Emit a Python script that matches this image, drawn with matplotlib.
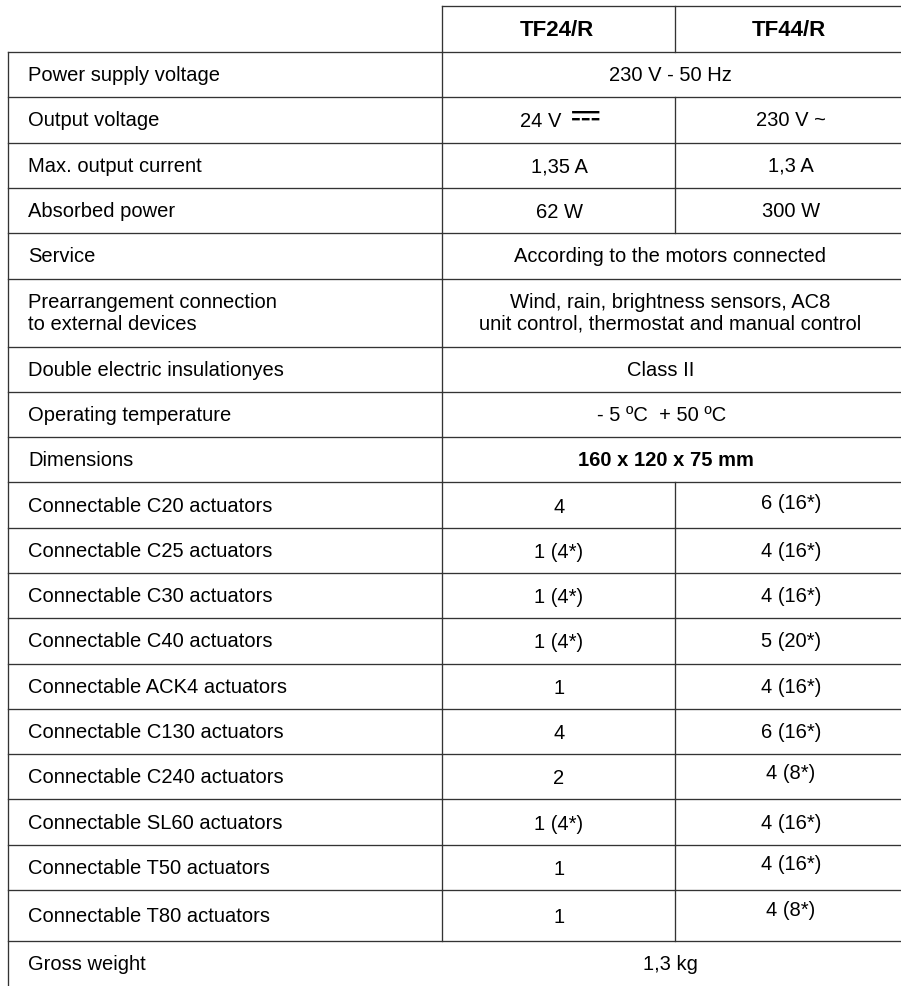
import matplotlib.pyplot as plt
from matplotlib import font_manager, ft2font

# table content
headers = ['TF24/R', 'TF44/R']
labels = ['Power supply voltage', 'Output voltage', 'Max. output current',
          'Absorbed power', 'Service',
          'Prearrangement connection\nto external devices',
          'Double electric insulationyes', 'Operating temperature', 'Dimensions',
          'Connectable C20 actuators', 'Connectable C25 actuators',
          'Connectable C30 actuators', 'Connectable C40 actuators',
          'Connectable ACK4 actuators', 'Connectable C130 actuators',
          'Connectable C240 actuators', 'Connectable SL60 actuators',
          'Connectable T50 actuators', 'Connectable T80 actuators', 'Gross weight']
tf24_values = ['230 V - 50 Hz', '24 V \u2393', '1,35 A', '62 W',
               'According to the motors connected',
               'Wind, rain, brightness sensors, AC8\nunit control, thermostat and manual control',
               'Class II', '- 5 \u00baC  + 50 \u00baC', '160 x 120 x 75 mm',
               '4', '1 (4*)', '1 (4*)', '1 (4*)', '1', '4', '2', '1 (4*)', '1', '1', '1,3 kg']
tf44_values = [None, '230 V ~', '1,3 A', '300 W', None, None, None, None, None,
               '6 (16*)', '4 (16*)', '4 (16*)', '5 (20*)', '4 (16*)', '6 (16*)',
               '4 (8*)', '4 (16*)', '4 (16*)', '4 (8*)', None]

# layout (pixels)
W, H = 901, 987
x_left, x_mid, x_col, x_right = 8, 442, 675, 901
header_top, header_bottom = 7, 53
row_h = [45.3] * len(labels)
row_h[5] = 68
row_h[18] = 51
row_h[19] = 44
bold_rows = [8]
merged_x = 670
merged_shift = {6: -9, 7: -8, 8: -4}
col_x = [559, 791]
lift44 = {9: -3, 15: -4, 17: -4, 18: -6}

fs = 14.5
lc = '#333333'
lw = 0.95
DC = '\u2393'


# find an installed family that has the DC symbol, so it stays real text
def family_with(ch):
    seen = set()
    for fe in font_manager.fontManager.ttflist:
        if fe.name in seen:
            continue
        seen.add(fe.name)
        try:
            if ord(ch) in ft2font.FT2Font(fe.fname).get_charmap():
                return fe.name
        except Exception:
            pass
    return None


dc_family = family_with(DC)
font = ['Liberation Sans', 'DejaVu Sans']
if dc_family:
    font = font + [dc_family]

fig = plt.figure(figsize=(W / 100, H / 100), dpi=100)
ax = fig.add_axes([0, 0, 1, 1])
ax.set_xlim(0, W)
ax.set_ylim(H, 0)
ax.axis('off')

# header
ax.plot([x_mid, x_right], [header_top, header_top], color=lc, lw=lw)
ax.plot([x_col, x_col], [header_top, header_bottom], color=lc, lw=lw)
for cx, h in zip(col_x, headers):
    ax.text(cx - 2, (header_top + header_bottom) / 2 + 1, h, ha='center', va='center',
            fontsize=16, fontweight='bold', family=font)
ax.plot([x_left, x_right], [header_bottom, header_bottom], color=lc, lw=lw)

y = header_bottom
n = len(labels)
for i in range(n):
    top, bot = y, y + row_h[i]
    mid = (top + bot) / 2
    ax.text(x_left + 20, mid, labels[i], ha='left', va='center', fontsize=fs,
            family=font, linespacing=1.2)
    weight = 'bold' if i in bold_rows else 'normal'
    if tf44_values[i] is None:
        ax.text(merged_x + merged_shift.get(i, 0), mid, tf24_values[i], ha='center',
                va='center', fontsize=fs, family=font, fontweight=weight,
                linespacing=1.2)
    else:
        val = tf24_values[i]
        if DC in val:
            # value text, then the DC sign a bit larger and raised
            t = val.replace(DC, '').strip()
            ax.text(col_x[0] + 2, mid + 1, t, ha='right', va='center',
                    fontsize=fs, family=font)
            if dc_family:
                ax.text(col_x[0] + 10, mid - 5, DC, ha='left', va='center',
                        fontsize=26, family=[dc_family])
            else:
                # no installed font has the DC sign: draw it as a shape
                sx = col_x[0] + 12
                ax.plot([sx, sx + 26], [mid - 4, mid - 4], color='black', lw=1.0)
                for k in range(3):
                    ax.plot([sx + k * 10, sx + k * 10 + 6], [mid, mid],
                            color='black', lw=1.0)
        else:
            ax.text(col_x[0], mid + 1, val, ha='center', va='center',
                    fontsize=fs, family=font)
        ax.text(col_x[1], mid + lift44.get(i, 0), tf44_values[i], ha='center',
                va='center', fontsize=fs, family=font)
        ax.plot([x_col, x_col], [top, bot], color=lc, lw=lw)
    if i < n - 1:
        ax.plot([x_left, x_right], [bot, bot], color=lc, lw=lw)
        ax.plot([x_mid, x_mid], [top, bot], color=lc, lw=lw)
    y = bot

# outer left border
ax.plot([x_left, x_left], [header_bottom, H], color=lc, lw=lw)
ax.plot([x_mid, x_mid], [header_top, header_bottom], color=lc, lw=lw)

fig.savefig('out.png', dpi=100, facecolor='white')
